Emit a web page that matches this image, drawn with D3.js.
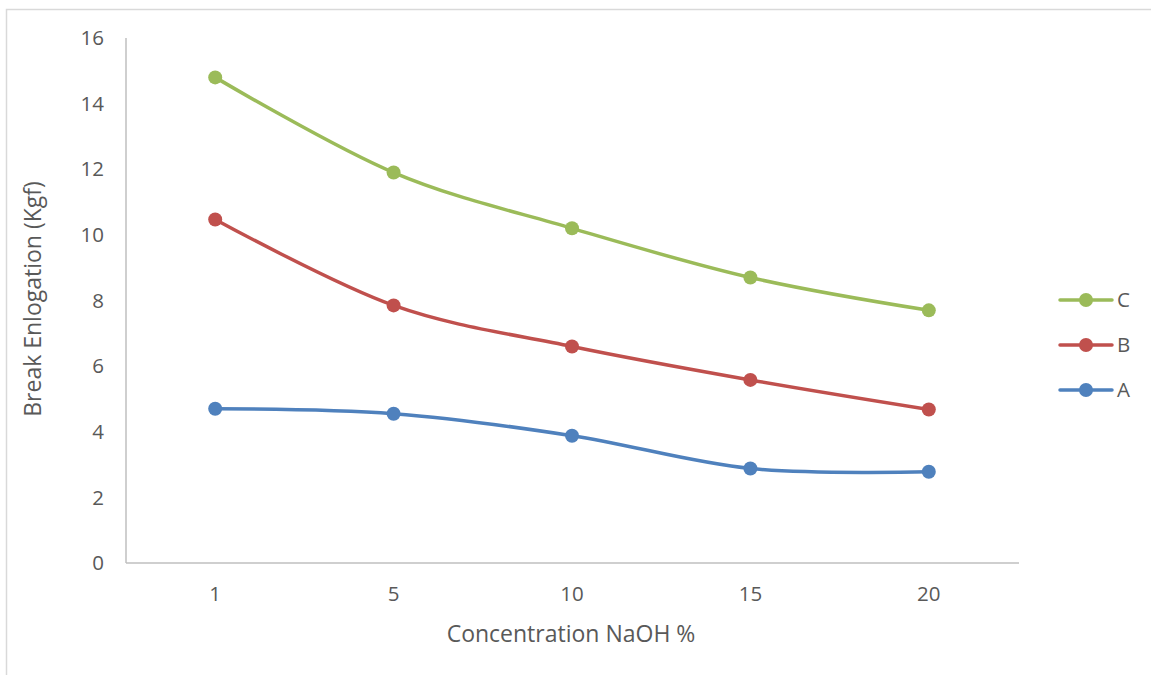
<!DOCTYPE html>
<meta charset="utf-8" />
<script src="https://d3js.org/d3.v7.min.js"></script>
<style>
  body { margin: 0; background: #fff; }
  text { font-family: "Open Sans", "Liberation Sans", sans-serif; fill: #595959; }
</style>
<svg id="chart" width="1151" height="675"></svg>
<script>
  // data
  var concentrations = ["1", "5", "10", "15", "20"];
  var seriesA = [4.7, 4.55, 3.88, 2.88, 2.78];
  var seriesB = [10.47, 7.85, 6.6, 5.58, 4.68];
  var seriesC = [14.8, 11.9, 10.2, 8.7, 7.7];
  var yTicks = [0, 2, 4, 6, 8, 10, 12, 14, 16];

  var series = [
    { name: "A", values: seriesA, color: "#4F81BD" },
    { name: "B", values: seriesB, color: "#C0504D" },
    { name: "C", values: seriesC, color: "#9BBB59" }
  ];

  var svg = d3.select("#chart");

  // outer chart border
  svg.append("rect")
    .attr("x", 6.5).attr("y", 9.5)
    .attr("width", 1200).attr("height", 700)
    .attr("fill", "none").attr("stroke", "#d9d9d9").attr("stroke-width", 1.5);

  var x = d3.scaleBand().domain(concentrations).range([126, 1018]);
  var y = d3.scaleLinear().domain([0, 16]).range([563, 38]);

  // axes lines
  svg.append("line")
    .attr("x1", 126).attr("x2", 126).attr("y1", 38).attr("y2", 563)
    .attr("stroke", "#bfbfbf").attr("stroke-width", 1.5);
  svg.append("line")
    .attr("x1", 126).attr("x2", 1019).attr("y1", 563).attr("y2", 563)
    .attr("stroke", "#bfbfbf").attr("stroke-width", 1.5);

  // y tick labels
  svg.selectAll(".ytick")
    .data(yTicks)
    .enter()
    .append("text")
    .attr("x", 104)
    .attr("y", function(d) { return y(d); })
    .attr("dy", "0.35em")
    .attr("text-anchor", "end")
    .style("font-size", "20.5px")
    .text(function(d) { return d; });

  // x tick labels
  svg.selectAll(".xtick")
    .data(concentrations)
    .enter()
    .append("text")
    .attr("x", function(d) { return x(d) + x.bandwidth() / 2; })
    .attr("y", 594)
    .attr("dy", "0.35em")
    .attr("text-anchor", "middle")
    .style("font-size", "20.5px")
    .text(function(d) { return d; });

  // axis titles
  svg.append("text")
    .attr("x", 571).attr("y", 634)
    .attr("dy", "0.35em")
    .attr("text-anchor", "middle")
    .style("font-size", "23px")
    .text("Concentration NaOH %");

  svg.append("text")
    .attr("transform", "translate(33,299) rotate(-90)")
    .attr("dy", "0.35em")
    .attr("text-anchor", "middle")
    .style("font-size", "23px")
    .text("Break Enlogation (Kgf)");

  // smoothed lines like the spreadsheet
  var line = d3.line()
    .x(function(d, i) { return x(concentrations[i]) + x.bandwidth() / 2; })
    .y(function(d) { return y(d); })
    .curve(d3.curveCatmullRom.alpha(0));

  var g = svg.selectAll(".series")
    .data(series)
    .enter()
    .append("g");

  g.append("path")
    .attr("d", function(d) { return line(d.values); })
    .attr("fill", "none")
    .attr("stroke", function(d) { return d.color; })
    .attr("stroke-width", 3.5)
    .attr("stroke-linecap", "round");

  g.selectAll("circle")
    .data(function(d) { return d.values.map(function(v, i) { return { v: v, i: i, color: d.color }; }); })
    .enter()
    .append("circle")
    .attr("cx", function(d) { return x(concentrations[d.i]) + x.bandwidth() / 2; })
    .attr("cy", function(d) { return y(d.v); })
    .attr("r", 7)
    .attr("fill", function(d) { return d.color; });

  // legend (C on top)
  var legend = svg.selectAll(".legend")
    .data(series.slice().reverse())
    .enter()
    .append("g")
    .attr("transform", function(d, i) { return "translate(0," + (300 + i * 45) + ")"; });

  legend.append("line")
    .attr("x1", 1060).attr("x2", 1112)
    .attr("stroke", function(d) { return d.color; })
    .attr("stroke-width", 3.5)
    .attr("stroke-linecap", "round");
  legend.append("circle")
    .attr("cx", 1086).attr("r", 7)
    .attr("fill", function(d) { return d.color; });
  legend.append("text")
    .attr("x", 1117)
    .attr("dy", "0.35em")
    .style("font-size", "20.5px")
    .text(function(d) { return d.name; });
</script>
